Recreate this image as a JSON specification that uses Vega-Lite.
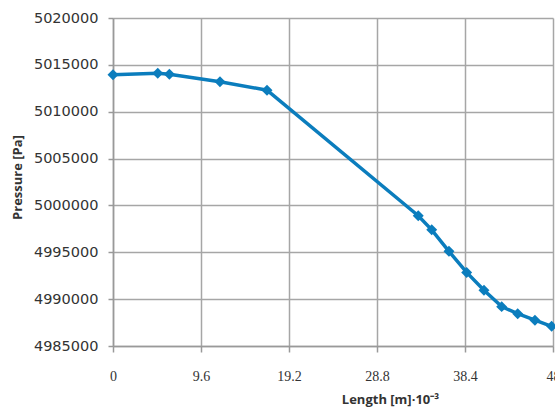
{
  "$schema": "https://vega.github.io/schema/vega-lite/v6.json",
  "autosize": "none",
  "padding": {"left": 113, "top": 18, "right": 10, "bottom": 62},
  "width": 440,
  "height": 328,
  "background": "white",
  "config": {"view": {"stroke": null}},
  "data": {"values": [
    {"length": 0, "pressure": 5013950},
    {"length": 4.88, "pressure": 5014100},
    {"length": 6.15, "pressure": 5014000},
    {"length": 11.67, "pressure": 5013200},
    {"length": 16.8, "pressure": 5012300},
    {"length": 33.3, "pressure": 4998900},
    {"length": 34.77, "pressure": 4997400},
    {"length": 36.65, "pressure": 4995100},
    {"length": 38.58, "pressure": 4992850},
    {"length": 40.47, "pressure": 4990950},
    {"length": 42.4, "pressure": 4989200},
    {"length": 44.15, "pressure": 4988450},
    {"length": 46.03, "pressure": 4987750},
    {"length": 47.85, "pressure": 4987100}
  ]},
  "encoding": {
    "x": {
      "field": "length", "type": "quantitative",
      "scale": {"domain": [0, 48], "nice": false, "zero": false},
      "axis": {
        "values": [0, 9.6, 19.2, 28.8, 38.4, 48],
        "format": ".1~f",
        "title": "Length [m]·10⁻³",
        "titleFont": "Open Sans", "titleFontSize": 13, "titleFontWeight": "bold", "titleColor": "#333333",
        "titleX": 277, "titleY": 53, "titleBaseline": "middle", "titleAlign": "center",
        "labelFont": "Liberation Serif", "labelFontSize": 14, "labelColor": "#333333",
        "labelPadding": 17, "labelFlush": false,
        "tickSize": 6, "tickColor": "#999999", "tickWidth": 1.5,
        "domainColor": "#999999", "domainWidth": 1.5,
        "grid": true, "gridColor": "#a6a6a6", "gridWidth": 1.5
      }
    },
    "y": {
      "field": "pressure", "type": "quantitative",
      "scale": {"domain": [4985000, 5020000], "nice": false, "zero": false},
      "axis": {
        "values": [4985000, 4990000, 4995000, 5000000, 5005000, 5010000, 5015000, 5020000],
        "format": "d",
        "title": "Pressure [Pa]",
        "titleFont": "Open Sans", "titleFontSize": 13, "titleFontWeight": "bold", "titleColor": "#333333",
        "titleAngle": -90, "titleX": -96, "titleY": 159, "titleBaseline": "middle", "titleAlign": "center",
        "labelFont": "DejaVu Sans", "labelFontSize": 14.5, "labelColor": "#333333",
        "labelPadding": 10,
        "tickSize": 5, "tickColor": "#999999", "tickWidth": 1.5,
        "domainColor": "#999999", "domainWidth": 1.5,
        "grid": true, "gridColor": "#a6a6a6", "gridWidth": 1.5
      }
    }
  },
  "layer": [
    {"mark": {"type": "line", "color": "#0b7dbd", "strokeWidth": 3.5}},
    {"mark": {"type": "point", "shape": "diamond", "filled": true, "size": 120, "color": "#0b7dbd", "opacity": 1}}
  ]
}
